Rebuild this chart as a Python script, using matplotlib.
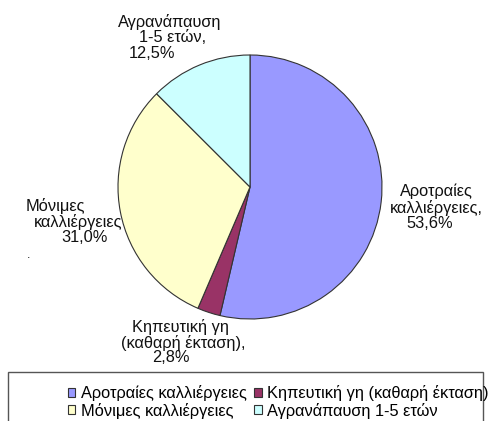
import matplotlib.pyplot as plt
from matplotlib.patches import Rectangle

categories = ["Αροτραίες καλλιέργειες", "Κηπευτική γη (καθαρή έκταση)",
              "Μόνιμες καλλιέργειες", "Αγρανάπαυση 1-5 ετών"]
shares = [53.6, 2.8, 31.0, 12.5]
colors = ["#9999FF", "#993366", "#FFFFCC", "#CCFFFF"]

# slice labels, split in lines like the original
label_lines = [
    ["Αροτραίες", "καλλιέργειες,", "53,6%"],
    ["Κηπευτική γη", "(καθαρή έκταση),", "2,8%"],
    ["Μόνιμες", "καλλιέργειες", "31,0%"],
    ["Αγρανάπαυση", "1-5 ετών,", "12,5%"],
]
# line centres in pixels (x, y from top)
label_pos = [
    [(436, 191), (436, 208), (430, 223)],
    [(180, 327), (183, 343), (171, 357)],
    [(55, 206), (78, 222), (85, 237)],
    [(170, 22), (173, 38), (152, 53)],
]

plt.rcParams['font.family'] = ['Liberation Sans', 'DejaVu Sans']
W, H = 488, 421
fig = plt.figure(figsize=(W / 100, H / 100), dpi=100)
ax = fig.add_axes([0, 0, 1, 1])

wedges, _ = ax.pie(shares, colors=colors, startangle=90, counterclock=False,
                   center=(250, H - 187), radius=132,
                   wedgeprops=dict(edgecolor="#333333", linewidth=0.8))
ax.set_xlim(0, W)
ax.set_ylim(0, H)
ax.set_aspect("auto")
ax.axis("off")

for lines, pos in zip(label_lines, label_pos):
    for txt, (x, y) in zip(lines, pos):
        ax.text(x, H - y, txt, ha="center", va="center", fontsize=11.8, color="#111111")
ax.text(29, H - 255, ".", ha="center", va="center", fontsize=9, color="#111111")

# legend frame (cut by the bottom edge)
fig.patches.append(Rectangle((8 / W, -0.05), 475 / W, 0.05 + (H - 372) / H,
                             transform=fig.transFigure, fill=False,
                             edgecolor="#555555", linewidth=1.0))
# row-major order like the original legend
order = [0, 2, 1, 3]
fig.legend([wedges[i] for i in order], [categories[i] for i in order],
           ncol=2, loc="upper left",
           bbox_to_anchor=(68 / W, 1 - 385 / H), frameon=False,
           fontsize=11.8, handlelength=0.45, handleheight=0.45, handletextpad=0.35,
           columnspacing=0.45, labelspacing=0.1, borderpad=0, borderaxespad=0)

fig.savefig("out.png", dpi=100)
